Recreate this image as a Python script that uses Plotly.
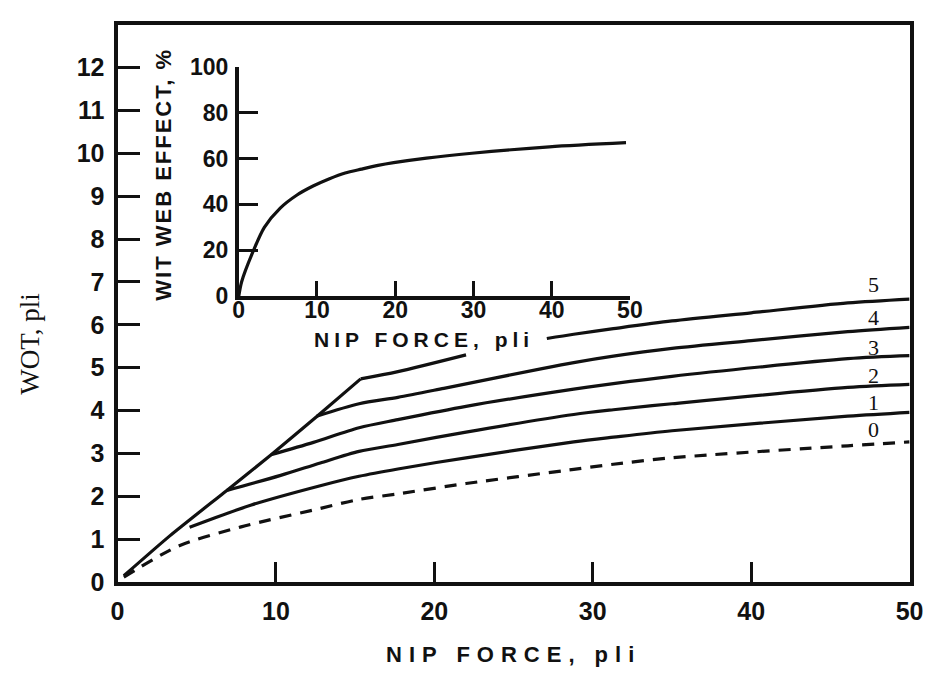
import plotly.graph_objects as go

# ---------------- data ----------------
main_x_ticks = [0, 10, 20, 30, 40, 50]
main_y_ticks = list(range(0, 13))
inset_x_ticks = [0, 10, 20, 30, 40, 50]
inset_y_ticks = [0, 20, 40, 60, 80, 100]

# common steep envelope from the origin (shared start of curves 2-5)
env_x = [0.4, 3.3, 6.9, 9.7, 12.6, 15.35]
env_y = [0.15, 1.08, 2.14, 2.97, 3.87, 4.74]

# curve 5 beyond the envelope; gap where the inset label sits
c5_x = [15.35, 17.7, 22.0, None, 27.1, 28.8, 31.3, 35.0, 40.0, 46.1, 50.0]
c5_y = [4.74, 4.91, 5.30, None, 5.68, 5.78, 5.91, 6.09, 6.28, 6.51, 6.60]

c4_x = [12.57, 15.25, 17.7, 20.6, 26.8, 28.8, 31.3, 35.0, 40.0, 46.1, 50.0]
c4_y = [3.87, 4.16, 4.31, 4.52, 4.98, 5.12, 5.27, 5.45, 5.63, 5.84, 5.94]

c3_x = [9.69, 12.37, 15.25, 17.7, 22.0, 28.8, 31.3, 35.0, 46.1, 50.0]
c3_y = [2.97, 3.26, 3.60, 3.79, 4.10, 4.50, 4.63, 4.80, 5.21, 5.28]

c2_x = [6.91, 10.3, 12.8, 15.25, 17.7, 22.0, 28.8, 31.3, 35.0, 46.1, 50.0]
c2_y = [2.14, 2.49, 2.78, 3.05, 3.21, 3.50, 3.91, 4.02, 4.16, 4.54, 4.61]

c1_x = [4.55, 8.45, 12.8, 15.25, 17.7, 22.0, 28.8, 31.3, 35.0, 46.1, 50.0]
c1_y = [1.28, 1.80, 2.25, 2.47, 2.64, 2.90, 3.27, 3.38, 3.53, 3.87, 3.96]

c0_x = [0.4, 3.9, 7.8, 12.8, 15.25, 17.7, 22.0, 28.8, 31.3, 35.0, 46.1, 50.0]
c0_y = [0.12, 0.85, 1.29, 1.72, 1.93, 2.06, 2.30, 2.63, 2.75, 2.90, 3.18, 3.27]

curve_labels = ["5", "4", "3", "2", "1", "0"]
curve_label_x = [47.7, 47.7, 47.7, 47.7, 47.7, 47.7]
curve_label_y = [6.95, 6.16, 5.47, 4.82, 4.20, 3.56]

inset_x = [0, 0.37, 1.83, 3.27, 5.3, 7.4, 9.5, 11.6, 13.6, 15.7, 17.8, 19.8, 24.0, 29.8, 39.7, 49.5]
inset_y = [0, 6.3, 19.5, 30.0, 38.4, 44.0, 48.0, 51.2, 53.7, 55.4, 57.0, 58.2, 60.2, 62.3, 65.1, 66.9]

# ---------------- figure ----------------
W, H = 950, 673
BLACK = "#111111"
SANS = "Liberation Sans"
SERIF = "Liberation Serif"

fig = go.Figure()

fig.add_trace(go.Scatter(x=env_x, y=env_y, mode="lines",
                         line=dict(color=BLACK, width=3.2, shape="spline", smoothing=0.6),
                         hoverinfo="skip", xaxis="x", yaxis="y"))
for xs, ys in [(c5_x, c5_y), (c4_x, c4_y), (c3_x, c3_y), (c2_x, c2_y), (c1_x, c1_y)]:
    fig.add_trace(go.Scatter(x=xs, y=ys, mode="lines",
                             line=dict(color=BLACK, width=3.2, shape="spline", smoothing=0.8),
                             connectgaps=False, hoverinfo="skip",
                             xaxis="x", yaxis="y"))
fig.add_trace(go.Scatter(x=c0_x, y=c0_y, mode="lines",
                         line=dict(color=BLACK, width=3.2, dash="12px,9px",
                                   shape="spline", smoothing=0.8),
                         hoverinfo="skip", xaxis="x", yaxis="y"))

fig.add_trace(go.Scatter(x=inset_x, y=inset_y, mode="lines",
                         line=dict(color=BLACK, width=3.2, shape="spline", smoothing=0.8),
                         hoverinfo="skip", xaxis="x2", yaxis="y2"))

tickfont_main = dict(family=SANS, size=25, color=BLACK, weight="bold")
tickfont_inset = dict(family=SANS, size=23, color=BLACK, weight="bold")


def px_x(p):
    return p / W


def px_y(p):
    return (H - p) / H


fig.update_layout(
    width=W, height=H,
    margin=dict(l=0, r=0, t=0, b=0),
    paper_bgcolor="white", plot_bgcolor="white",
    showlegend=False,
    xaxis=dict(domain=[px_x(113), px_x(923)], range=[0, 50], tickvals=main_x_ticks,
               ticks="inside", ticklen=20, tickwidth=3, tickcolor=BLACK,
               showline=True, linewidth=4, linecolor=BLACK, mirror=True,
               showgrid=False, zeroline=False, tickfont=tickfont_main,
               ticklabelstandoff=4, anchor="y"),
    yaxis=dict(domain=[px_y(593), px_y(12)], range=[0, 13], tickvals=main_y_ticks,
               ticks="inside", ticklen=22, tickwidth=3, tickcolor=BLACK,
               showline=True, linewidth=4, linecolor=BLACK, mirror=True,
               showgrid=False, zeroline=False, tickfont=tickfont_main,
               ticklabelstandoff=4, anchor="x"),
    xaxis2=dict(domain=[px_x(237), px_x(637)], range=[0, 50], tickvals=inset_x_ticks,
                ticks="inside", ticklen=15, tickwidth=3, tickcolor=BLACK,
                showline=True, linewidth=3.5, linecolor=BLACK, mirror=False,
                showgrid=False, zeroline=False, tickfont=tickfont_inset,
                ticklabelstandoff=-10, anchor="y2"),
    yaxis2=dict(domain=[px_y(295), px_y(56)], range=[0, 100], tickvals=inset_y_ticks,
                ticks="inside", ticklen=19, tickwidth=3, tickcolor=BLACK,
                showline=True, linewidth=3.5, linecolor=BLACK, mirror=False,
                showgrid=False, zeroline=False, tickfont=tickfont_inset,
                ticklabelstandoff=2, anchor="x2"),
)

annotations = [
    dict(text='<span style="letter-spacing:7px">NIP FORCE, pli</span>',
         x=px_x(518), y=px_y(668), xref="paper", yref="paper",
         showarrow=False, xanchor="center", yanchor="middle",
         font=dict(family=SANS, size=22, color=BLACK, weight="bold")),
    dict(text="WOT, pli", x=px_x(24), y=px_y(345), xref="paper", yref="paper",
         showarrow=False, textangle=-90, xanchor="center", yanchor="middle",
         font=dict(family=SERIF, size=27, color=BLACK)),
    dict(text='<span style="letter-spacing:5px">NIP FORCE, pli</span>',
         x=px_x(426), y=px_y(340), xref="paper", yref="paper",
         showarrow=False, xanchor="center", yanchor="middle",
         font=dict(family=SANS, size=21, color=BLACK, weight="bold")),
    dict(text='<span style="letter-spacing:2px">WIT WEB EFFECT, %</span>',
         x=px_x(160), y=px_y(168), xref="paper", yref="paper",
         showarrow=False, textangle=-90, xanchor="center", yanchor="middle",
         font=dict(family=SANS, size=22, color=BLACK, weight="bold")),
]
for lab, lx, ly in zip(curve_labels, curve_label_x, curve_label_y):
    annotations.append(dict(text=lab, x=lx, y=ly, xref="x", yref="y",
                            showarrow=False, xanchor="center", yanchor="middle",
                            font=dict(family=SERIF, size=22, color=BLACK)))
fig.update_layout(annotations=annotations)

fig.write_html("out.html")
